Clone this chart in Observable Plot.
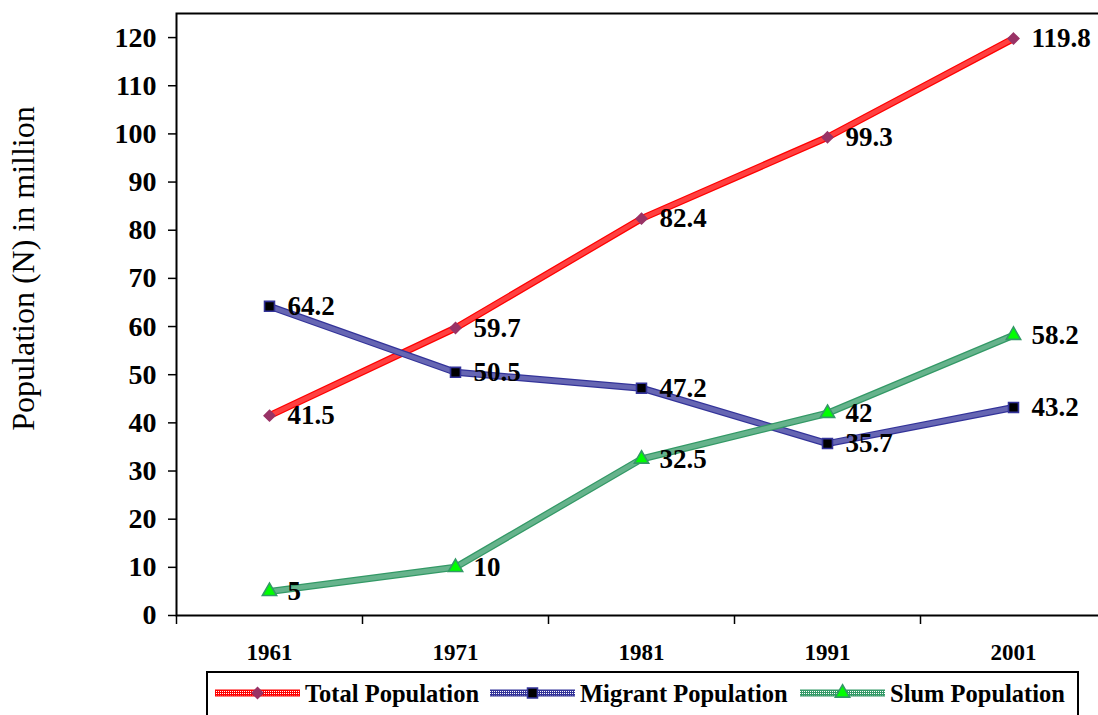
<!DOCTYPE html>
<html><head><meta charset="utf-8">
<script src="https://cdn.jsdelivr.net/npm/d3@7"></script>
<script src="https://cdn.jsdelivr.net/npm/@observablehq/plot@0.6"></script>
<style>
body{margin:0;background:#fff;font-family:"Liberation Serif","Times New Roman",serif;}
#wrap{position:relative;width:1098px;height:715px;overflow:hidden;}
#chart{position:absolute;left:0;top:0;}
#legend{position:absolute;left:206px;top:671px;}
</style></head><body><div id="wrap"><div id="chart"></div><div id="legend"></div></div>
<script>
const years = [1961, 1971, 1981, 1991, 2001];
const totalPop = [41.5, 59.7, 82.4, 99.3, 119.8];
const migrantPop = [64.2, 50.5, 47.2, 35.7, 43.2];
const slumPop = [5, 10, 32.5, 42, 58.2];
const seriesNames = ["Total Population", "Migrant Population", "Slum Population"];
const yTicks = [0, 10, 20, 30, 40, 50, 60, 70, 80, 90, 100, 110, 120];
const yearEdges = [1956, 1966, 1976, 1986, 1996, 2006];
const yTitle = "Population (N) in million";

const styles = [
  {line: "#ff0000", fill: "#993366", stroke: "#993366", symbol: "diamond2", r: 4.8},
  {line: "#333399", fill: "#000000", stroke: "#333399", symbol: "square", r: 5.6},
  {line: "#339966", fill: "#00ff00", stroke: "#339966", symbol: "triangle", r: 5.3}
];
const values = [totalPop, migrantPop, slumPop];
const font = "'Liberation Serif', 'Times New Roman', serif";

function addDotPattern(svg) {
  const defs = svg.insert("defs", ":first-child");
  const p = defs.append("pattern").attr("id", "dots").attr("patternUnits", "userSpaceOnUse").attr("width", 2).attr("height", 2);
  p.append("rect").attr("x", 0).attr("y", 0).attr("width", 1).attr("height", 1).attr("fill", "white");
}

const seriesMarks = [];
seriesNames.forEach((name, si) => {
  const data = years.map((yr, i) => ({series: name, year: yr, value: values[si][i]}));
  const st = styles[si];
  seriesMarks.push(
    Plot.line(data, {x: "year", y: "value", stroke: st.line, strokeWidth: 7}),
    Plot.line(data, {x: "year", y: "value", stroke: "white", strokeWidth: 4.5}),
    Plot.dot(data, {x: "year", y: "value", symbol: () => st.symbol, r: st.r, fill: st.fill, stroke: st.stroke, strokeWidth: 1.6})
  );
});
const labelMarks = seriesNames.map((name, si) => {
  const data = years.map((yr, i) => ({year: yr, value: values[si][i]}));
  return Plot.text(data, {x: "year", y: "value", text: d => String(d.value), dx: 18, textAnchor: "start", fontSize: 27, fontWeight: "bold", fill: "black"});
});

const plot = Plot.plot({
  width: 1098, height: 665,
  marginLeft: 176, marginRight: -8, marginTop: 13, marginBottom: 50,
  style: {fontFamily: font, background: "white", color: "black"},
  x: {domain: [1956, 2006]},
  y: {domain: [0, 125]},
  marks: [
    Plot.frame({stroke: "black", strokeWidth: 2}),
    Plot.axisY({ticks: yTicks, tickSize: 8, tickPadding: 12, fontSize: 28, fontWeight: "bold", label: null, strokeWidth: 1.5}),
    Plot.axisX({ticks: yearEdges, tickFormat: () => "", tickSize: 9, label: null, strokeWidth: 1.5}),
    Plot.axisX({ticks: years, tickSize: 0, tickPadding: 28, fontSize: 23, fontWeight: "bold", tickFormat: d => String(d), label: null}),
    Plot.text([yTitle], {frameAnchor: "left", dx: -153, dy: -46, rotate: -90, fontSize: 32, textAnchor: "middle", fill: "black"}),
    ...seriesMarks,
    ...labelMarks
  ]
});
document.getElementById("chart").appendChild(plot);
const psvg = d3.select(plot);
addDotPattern(psvg);
psvg.selectAll('[stroke="white"]').attr("stroke", "url(#dots)");

// Legend
const lg = d3.select("#legend").append("svg").attr("width", 874).attr("height", 60).style("font-family", font);
lg.append("rect").attr("x", 1).attr("y", 1).attr("width", 871).attr("height", 70).attr("fill", "white").attr("stroke", "black").attr("stroke-width", 2);
const itemX = [9, 284, 594];
const symMap = {diamond2: d3.symbolDiamond2, square: d3.symbolSquare, triangle: d3.symbolTriangle};
seriesNames.forEach((name, si) => {
  const st = styles[si];
  const x0 = itemX[si], cy = 22;
  lg.append("line").attr("x1", x0).attr("x2", x0 + 85).attr("y1", cy).attr("y2", cy).attr("stroke", st.line).attr("stroke-width", 7);
  lg.append("line").attr("x1", x0).attr("x2", x0 + 85).attr("y1", cy).attr("y2", cy).attr("stroke", "url(#dots)").attr("stroke-width", 4.5);
  lg.append("path").attr("transform", `translate(${x0 + 42.5},${cy})`).attr("d", d3.symbol(symMap[st.symbol], Math.PI * st.r * st.r)()).attr("fill", st.fill).attr("stroke", st.stroke).attr("stroke-width", 1.6);
  lg.append("text").attr("x", x0 + 90).attr("y", cy).attr("dy", "0.35em").attr("font-size", 24.5).attr("font-weight", "bold").text(name);
});
</script>
</body></html>
